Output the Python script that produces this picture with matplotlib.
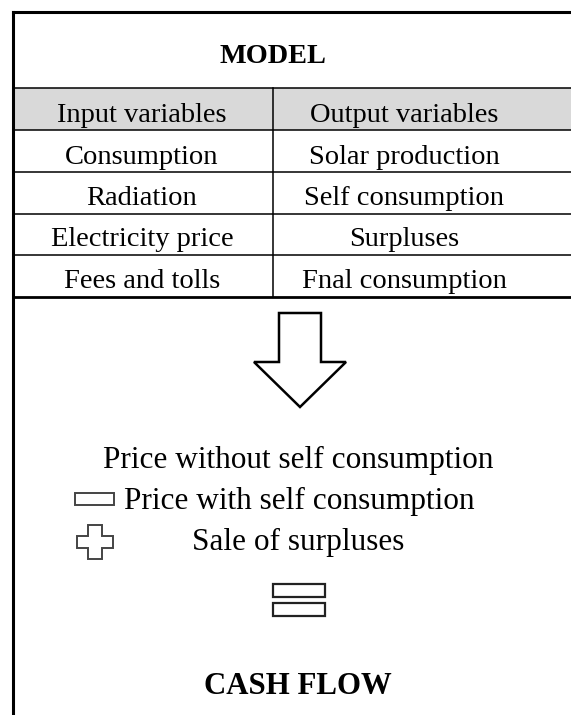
import matplotlib
matplotlib.use("Agg")
import matplotlib.pyplot as plt
from matplotlib.patches import Rectangle, Polygon

title_top = "MODEL"
title_bottom = "CASH FLOW"
headers = ["Input variables", "Output variables"]
inputs = ["Consumption", "Radiation", "Electricity price", "Fees and tolls"]
outputs = ["Solar production", "Self consumption", "Surpluses", "Fnal consumption"]
flow_lines = ["Price without self consumption", "Price with self consumption",
              "Sale of surpluses"]

W, H = 571, 715
fig = plt.figure(figsize=(W / 100, H / 100), dpi=100)
ax = fig.add_axes([0, 0, 1, 1])
ax.set_xlim(0, W)
ax.set_ylim(H, 0)
ax.axis("off")

serif = ["Liberation Serif", "DejaVu Serif"]
left, right = 12.5, W + 5
col_x = 273
row_y = [88, 130, 172, 214, 255, 297]
base_y = [122, 164, 205, 246, 288]

# header band
ax.add_patch(Rectangle((left, row_y[0]), right - left, row_y[1] - row_y[0],
                       facecolor="#d9d9d9", edgecolor="none"))

# grid lines
for i, y in enumerate(row_y):
    lw = 2.0 if i == len(row_y) - 1 else 1.1
    ax.plot([left, right], [y, y], color="black", lw=lw)
ax.plot([col_x, col_x], [row_y[0], row_y[-1]], color="black", lw=1.1)

# outer frame (open at right / bottom, cropped)
ax.plot([left, left], [H + 5, 12], color="black", lw=2.2, solid_capstyle="projecting")
ax.plot([left, right], [12, 12], color="black", lw=2.2, solid_capstyle="projecting")

ax.text(273, 63, title_top, ha="center", va="baseline", fontsize=20.3,
        fontweight="bold", family=serif)
ax.text(142, base_y[0], headers[0], ha="center", va="baseline", fontsize=20.5, family=serif)
ax.text(404, base_y[0], headers[1], ha="center", va="baseline", fontsize=20.5, family=serif)
for i, (a, b) in enumerate(zip(inputs, outputs)):
    ax.text(142, base_y[i + 1], a, ha="center", va="baseline", fontsize=20.5, family=serif)
    ax.text(404, base_y[i + 1], b, ha="center", va="baseline", fontsize=20.5, family=serif)

# down arrow
arrow = Polygon([(279, 313), (321, 313), (321, 362), (346, 362), (300, 407),
                 (254, 362), (279, 362)], closed=True, facecolor="white",
                edgecolor="black", lw=1.8, joinstyle="miter")
ax.add_patch(arrow)

# flow text
ax.text(298, 468, flow_lines[0], ha="center", va="baseline", fontsize=22.5, family=serif)
ax.text(299, 509, flow_lines[1], ha="center", va="baseline", fontsize=22.5, family=serif)
ax.text(298, 550, flow_lines[2], ha="center", va="baseline", fontsize=22.5, family=serif)

# minus sign
ax.add_patch(Rectangle((75, 493), 39, 12, facecolor="white", edgecolor="#444444", lw=1.4))

# plus sign
plus = Polygon([(88, 525), (102, 525), (102, 536), (113, 536), (113, 548), (102, 548),
                (102, 559), (88, 559), (88, 548), (77, 548), (77, 536), (88, 536)],
               closed=True, facecolor="white", edgecolor="#444444", lw=1.4)
ax.add_patch(plus)

# equals sign
ax.add_patch(Rectangle((273, 584), 52, 13, facecolor="white", edgecolor="#222222", lw=1.6))
ax.add_patch(Rectangle((273, 603), 52, 13, facecolor="white", edgecolor="#222222", lw=1.6))

ax.text(298, 694, title_bottom, ha="center", va="baseline", fontsize=22.2,
        fontweight="bold", family=serif)

fig.savefig("out.png", dpi=100)
